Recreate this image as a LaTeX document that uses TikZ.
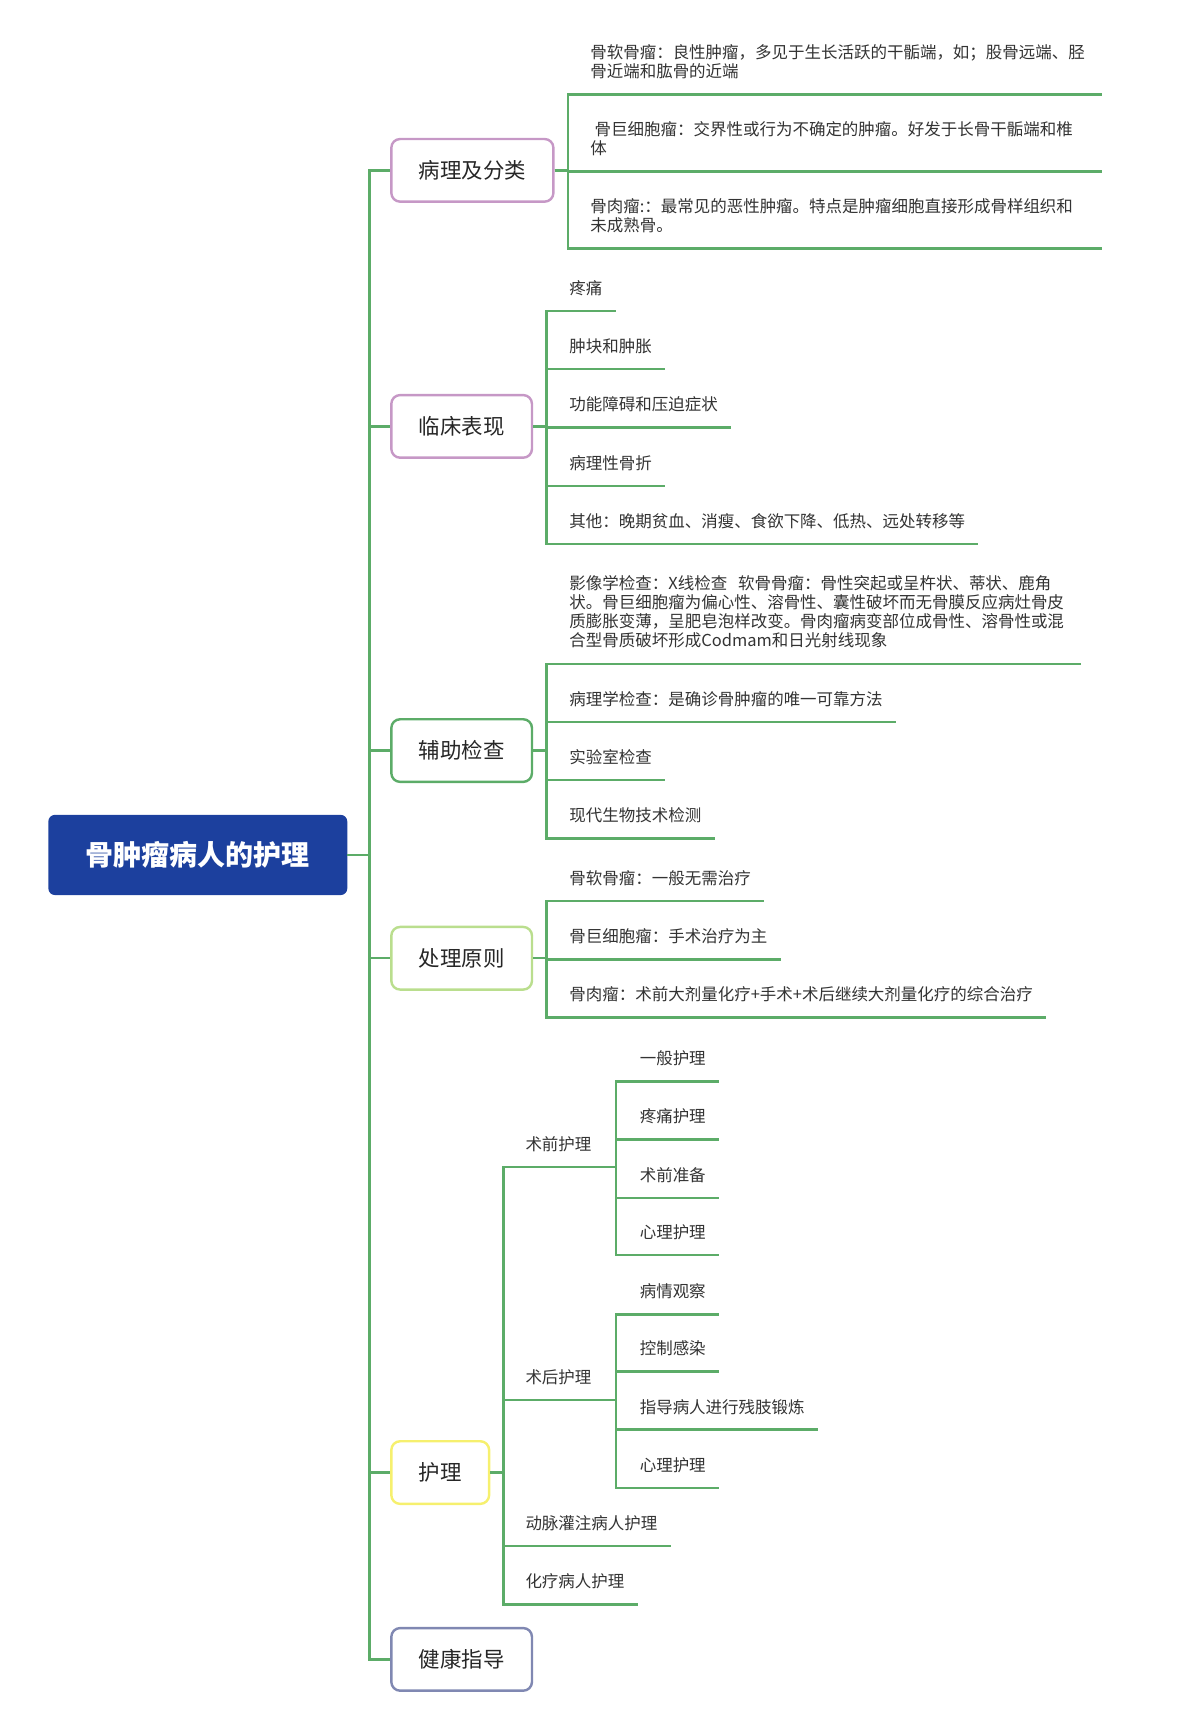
\documentclass[tikz,border=0pt]{standalone}
\usepackage{fontspec}
\setmainfont{Noto Sans CJK SC}
\definecolor{rootblue}{RGB}{28,64,158}
\definecolor{linegreen}{RGB}{92,172,104}
\definecolor{mauve}{RGB}{198,152,198}
\definecolor{palegreen}{RGB}{186,222,142}
\definecolor{lemon}{RGB}{246,240,110}
\definecolor{slate}{RGB}{128,136,178}
\tikzset{
  branch/.style = {draw=linegreen, line width=2.2pt},
  root/.style = {fill=rootblue, rounded corners=6pt, minimum width=272pt, minimum height=73pt, text=white, font=\fontsize{25.5}{28}\selectfont\bfseries},
  topic/.style = {anchor=west, rounded corners=8pt, line width=2.2pt, minimum height=57pt, inner xsep=25pt, text=black!85, font=\fontsize{19.5}{22}\selectfont},
  leaf/.style = {anchor=south west, inner xsep=12pt, inner ysep=13pt, text height=13pt, text depth=2pt, text=black!80, font=\fontsize{15}{17.5}\selectfont},
  longleaf/.style = {leaf, text height={}, text depth={}, inner ysep=14pt, text width=453pt, align=left}
}

\begin{document}
\begin{tikzpicture}[x=1pt, y=-1pt]
\useasboundingbox (0,0) rectangle (1092,1567);

\node[root] (root) at (180,778) {骨肿瘤病人的护理};

\node[topic, draw=mauve] (bl) at (355,155) {病理及分类};
\node[topic, draw=mauve] (lc) at (355,388) {临床表现};
\node[topic, draw=linegreen] (fz) at (355,683) {辅助检查};
\node[topic, draw=palegreen] (cl) at (355,872) {处理原则};
\node[topic, draw=lemon] (hl) at (355,1340) {护理};
\node[topic, draw=slate] (jk) at (355,1510) {健康指导};

\node[longleaf] (bl1) at (525,86) {骨软骨瘤：良性肿瘤，多见于生长活跃的干骺端，如；股骨远端、胫\\骨近端和肱骨的近端};
\node[longleaf] (bl2) at (525,156) {\hspace*{4pt}骨巨细胞瘤：交界性或行为不确定的肿瘤。好发于长骨干骺端和椎\\体};
\node[longleaf] (bl3) at (525,226) {骨肉瘤:：最常见的恶性肿瘤。特点是肿瘤细胞直接形成骨样组织和\\未成熟骨。};

\node[leaf] (lc1) at (506,283) {疼痛};
\node[leaf] (lc2) at (506,336) {肿块和肿胀};
\node[leaf] (lc3) at (506,389) {功能障碍和压迫症状};
\node[leaf] (lc4) at (506,442) {病理性骨折};
\node[leaf] (lc5) at (506,495) {其他：晚期贫血、消瘦、食欲下降、低热、远处转移等};

\node[longleaf] (fz1) at (506,604) {影像学检查：X线检查\ \ 软骨骨瘤：骨性突起或呈杵状、蒂状、鹿角\\状。骨巨细胞瘤为偏心性、溶骨性、囊性破坏而无骨膜反应病灶骨皮\\质膨胀变薄，呈肥皂泡样改变。骨肉瘤病变部位成骨性、溶骨性或混\\合型骨质破坏形成Codmam和日光射线现象};
\node[leaf] (fz2) at (506,657) {病理学检查：是确诊骨肿瘤的唯一可靠方法};
\node[leaf] (fz3) at (506,710) {实验室检查};
\node[leaf] (fz4) at (506,763) {现代生物技术检测};

\node[leaf] (cl1) at (506,820) {骨软骨瘤：一般无需治疗};
\node[leaf] (cl2) at (506,873) {骨巨细胞瘤：手术治疗为主};
\node[leaf] (cl3) at (506,926) {骨肉瘤：术前大剂量化疗+手术+术后继续大剂量化疗的综合治疗};

\node[leaf] (hl1) at (466,1062) {术前护理};
\node[leaf] (hl2) at (466,1274) {术后护理};
\node[leaf] (hl3) at (466,1407) {动脉灌注病人护理};
\node[leaf] (hl4) at (466,1460) {化疗病人护理};

\node[leaf] (hl1a) at (570,984) {一般护理};
\node[leaf] (hl1b) at (570,1037) {疼痛护理};
\node[leaf] (hl1c) at (570,1090) {术前准备};
\node[leaf] (hl1d) at (570,1142) {心理护理};

\node[leaf] (hl2a) at (570,1196) {病情观察};
\node[leaf] (hl2b) at (570,1248) {控制感染};
\node[leaf] (hl2c) at (570,1301) {指导病人进行残肢锻炼};
\node[leaf] (hl2d) at (570,1354) {心理护理};

\draw[branch] (root.east) -- ++(20,0) |- (bl.west);
\draw[branch] (root.east) -- ++(20,0) |- (lc.west);
\draw[branch] (root.east) -- ++(20,0) |- (fz.west);
\draw[branch] (root.east) -- ++(20,0) |- (cl.west);
\draw[branch] (root.east) -- ++(20,0) |- (hl.west);
\draw[branch] (root.east) -- ++(20,0) |- (jk.west);

\draw[branch] (bl.east) -- ++(12,0) |- (bl1.south east);
\draw[branch] (bl.east) -- ++(12,0) |- (bl2.south east);
\draw[branch] (bl.east) -- ++(12,0) |- (bl3.south east);

\draw[branch] (lc.east) -- ++(12,0) |- (lc1.south east);
\draw[branch] (lc.east) -- ++(12,0) |- (lc2.south east);
\draw[branch] (lc.east) -- ++(12,0) |- (lc3.south east);
\draw[branch] (lc.east) -- ++(12,0) |- (lc4.south east);
\draw[branch] (lc.east) -- ++(12,0) |- (lc5.south east);

\draw[branch] (fz.east) -- ++(12,0) |- (fz1.south east);
\draw[branch] (fz.east) -- ++(12,0) |- (fz2.south east);
\draw[branch] (fz.east) -- ++(12,0) |- (fz3.south east);
\draw[branch] (fz.east) -- ++(12,0) |- (fz4.south east);

\draw[branch] (cl.east) -- ++(12,0) |- (cl1.south east);
\draw[branch] (cl.east) -- ++(12,0) |- (cl2.south east);
\draw[branch] (cl.east) -- ++(12,0) |- (cl3.south east);

\draw[branch] (hl.east) -- ++(12,0) |- (hl1.south east);
\draw[branch] (hl.east) -- ++(12,0) |- (hl2.south east);
\draw[branch] (hl.east) -- ++(12,0) |- (hl3.south east);
\draw[branch] (hl.east) -- ++(12,0) |- (hl4.south east);

\draw[branch] (hl1.south east) -- ++(10,0) |- (hl1a.south east);
\draw[branch] (hl1.south east) -- ++(10,0) |- (hl1b.south east);
\draw[branch] (hl1.south east) -- ++(10,0) |- (hl1c.south east);
\draw[branch] (hl1.south east) -- ++(10,0) |- (hl1d.south east);

\draw[branch] (hl2.south east) -- ++(10,0) |- (hl2a.south east);
\draw[branch] (hl2.south east) -- ++(10,0) |- (hl2b.south east);
\draw[branch] (hl2.south east) -- ++(10,0) |- (hl2c.south east);
\draw[branch] (hl2.south east) -- ++(10,0) |- (hl2d.south east);
\end{tikzpicture}
\end{document}
